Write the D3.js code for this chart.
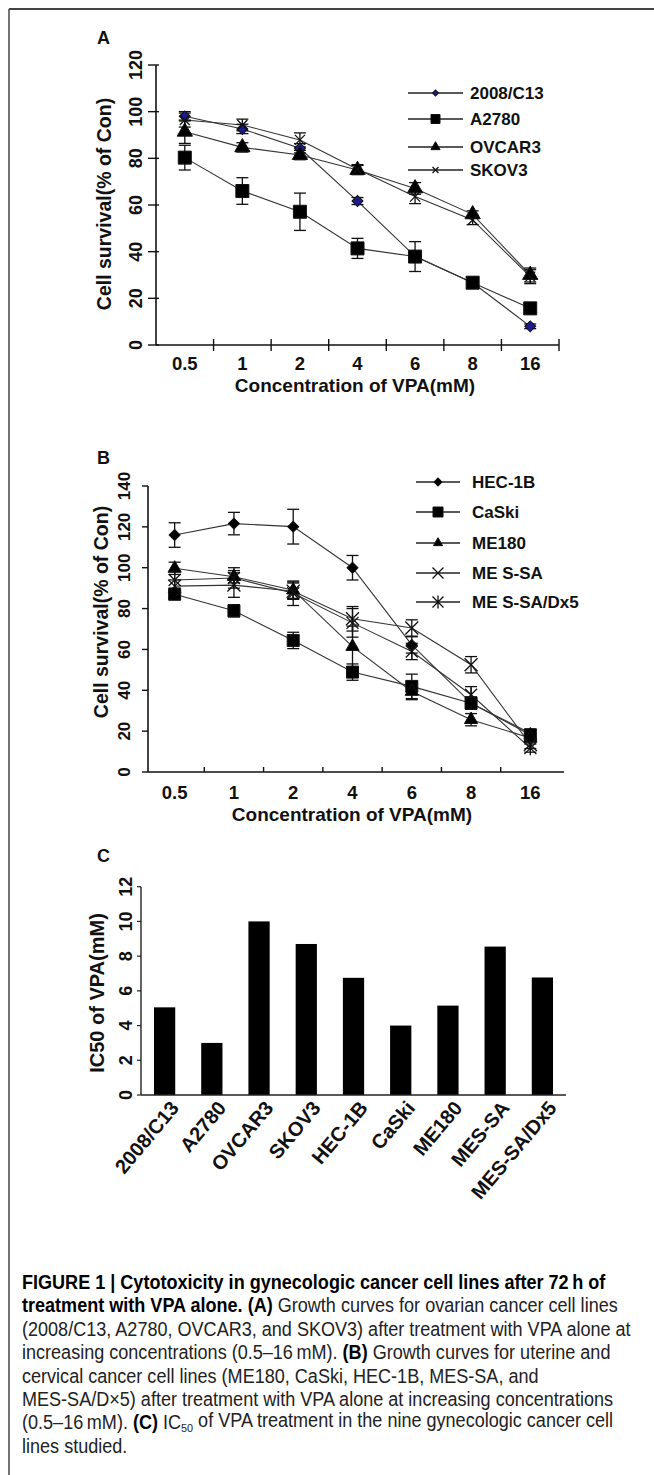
<!DOCTYPE html>
<html>
<head>
<meta charset="utf-8">
<script src="https://cdn.jsdelivr.net/npm/d3@7"></script>
<style>
  body { margin: 0; background: #fff; }
  svg text { font-family: "Liberation Sans", Arial, sans-serif; font-weight: bold; fill: #111; }
  .cap text { font-weight: normal; fill: #222; }
</style>
</head>
<body>
<div id="canvas"></div>
<script>
// ---- data ----
var concs = ["0.5", "1", "2", "4", "6", "8", "16"]

// panel A (ovarian)
var c13 = [98, 92.6, 84.3, 61.7, 38, 26.7, 8]
var c13Err = [2, 2, 2, 1.5, 2, 1, 1]
var a2780 = [80.3, 66, 57.1, 41.4, 37.9, 26.7, 15.7]
var a2780Err = [5.3, 5.7, 8, 4.3, 6.4, 1.5, 1.5]
var ovcar3 = [91.4, 84.7, 81.4, 75, 67.1, 56, 30]
var ovcar3Err = [5, 2, 2, 2, 2.5, 1.5, 3]
var skov3 = [96.4, 94.3, 87.9, 75.3, 63.6, 53.6, 29.3]
var skov3Err = [3, 2.5, 3, 2, 3, 2, 3]
var yTicksA = [0, 20, 40, 60, 80, 100, 120]

// panel B (uterine / cervical)
var hec = [116, 121.6, 120.1, 100, 62.2, 33.7, 19]
var hecErr = [6, 5.5, 8.5, 6, 4, 3, 2]
var caski = [87, 78.9, 64.4, 48.9, 41.9, 33.7, 18.2]
var caskiErr = [2, 3, 4, 4, 6, 3, 2]
var me180 = [99.7, 95.6, 89, 61.4, 39.4, 25.6, 16.6]
var me180Err = [3, 3, 4, 10, 4, 3, 2]
var messa = [91, 91.5, 88.5, 75, 70.5, 52.5, 13.5]
var messaErr = [3, 6, 4, 6, 4, 4, 2]
var dx5 = [94, 95, 87.5, 73, 59, 37.8, 11.7]
var dx5Err = [4, 5, 6, 7, 4, 4, 2]
var yTicksB = [0, 20, 40, 60, 80, 100, 120, 140]

// panel C (IC50)
var cells = ["2008/C13", "A2780", "OVCAR3", "SKOV3", "HEC-1B", "CaSki", "ME180", "MES-SA", "MES-SA/Dx5"]
var ic50 = [5.05, 3.0, 10.0, 8.7, 6.75, 4.0, 5.15, 8.55, 6.77]
var yTicksC = [0, 2, 4, 6, 8, 10, 12]

// ---- canvas ----
var W = 654, H = 1475
var svg = d3.select("#canvas").append("svg").attr("width", W).attr("height", H)

// frame
svg.append("line").attr("x1", 9).attr("x2", W).attr("y1", 9).attr("y2", 9)
    .attr("stroke", "#444").attr("stroke-width", 2)
svg.append("line").attr("x1", 9).attr("x2", 9).attr("y1", 9).attr("y2", H)
    .attr("stroke", "#444").attr("stroke-width", 1.5)

// markers
function markerPath(type, s) {
    if (type == "square") return d3.symbol(d3.symbolSquare, s * s)()
    if (type == "diamond") return d3.symbol(d3.symbolSquare, s * s * 0.5)()
    if (type == "triangle") return d3.symbol(d3.symbolTriangle, s * s * 0.45)()
    var r = s / 2
    if (type == "x") return "M" + (-r) + "," + (-r) + "L" + r + "," + r + "M" + (-r) + "," + r + "L" + r + "," + (-r)
    if (type == "star") return "M" + (-r) + "," + (-r) + "L" + r + "," + r + "M" + (-r) + "," + r + "L" + r + "," + (-r) +
        "M0," + (-r * 1.2) + "L0," + (r * 1.2)
}

function drawMarker(g, type, cx, cy, s, fill) {
    var p = g.append("path").attr("d", markerPath(type, s))
        .attr("transform", "translate(" + cx + "," + cy + ")" + (type == "diamond" ? " rotate(45)" : ""))
    if (type == "x" || type == "star") p.attr("fill", "none").attr("stroke", "#111").attr("stroke-width", 1.3)
    else p.attr("fill", fill || "#000").attr("stroke", "#111").attr("stroke-width", 1)
}

// ---- generic line panel ----
function linePanel(opt) {
    var g = svg.append("g")
    var x = d3.scaleBand().domain(concs).range(opt.xRange)
    var y = d3.scaleLinear().domain([0, opt.yMax]).range(opt.yRange)

    // axes
    g.append("line").attr("x1", opt.axisX).attr("x2", opt.axisX)
        .attr("y1", y(0)).attr("y2", y(opt.yMax)).attr("stroke", "#111").attr("stroke-width", 1.6)
    g.append("line").attr("x1", opt.axisX).attr("x2", opt.xRange[1] + opt.xEndPad)
        .attr("y1", y(0)).attr("y2", y(0)).attr("stroke", "#111").attr("stroke-width", 1.6)

    opt.yTicks.forEach(function (t) {
        g.append("line").attr("x1", opt.axisX - opt.yTickLen).attr("x2", opt.axisX + opt.yTickIn)
            .attr("y1", y(t)).attr("y2", y(t)).attr("stroke", "#111").attr("stroke-width", 1.4)
        g.append("text").attr("transform", "translate(" + opt.yLabX + "," + y(t) + ") rotate(-90)")
            .attr("text-anchor", "middle").attr("dy", "0.35em")
            .style("font-size", opt.yLabSize + "px").text(t)
    })

    concs.forEach(function (c, i) {
        var bx = x(c) + x.bandwidth()
        if (i < concs.length - 1 || opt.endTick)
            g.append("line").attr("x1", bx).attr("x2", bx)
                .attr("y1", y(0) - opt.xTickUp).attr("y2", y(0) + opt.xTickDown)
                .attr("stroke", "#111").attr("stroke-width", 1.4)
        g.append("text").attr("x", x(c) + x.bandwidth() / 2).attr("y", y(0) + opt.xLabDy)
            .attr("text-anchor", "middle").style("font-size", "18.5px").text(c)
    })

    g.append("text").attr("x", opt.titleX).attr("y", y(0) + opt.titleDy)
        .attr("text-anchor", "middle").style("font-size", "19px").text("Concentration of VPA(mM)")
    g.append("text").attr("transform", "translate(" + opt.yTitleX + "," + opt.yTitleY + ") rotate(-90)")
        .attr("text-anchor", "middle").attr("dy", "0.35em").style("font-size", "19.5px")
        .text("Cell survival(% of Con)")
    g.append("text").attr("x", opt.panelX).attr("y", opt.panelY).style("font-size", "18px").text(opt.panel)

    var cx = function (i) { return x(concs[i]) + x.bandwidth() / 2 }
    var line = d3.line().x(function (d, i) { return cx(i) }).y(function (d) { return y(d) })

    opt.series.forEach(function (s) {
        g.append("path").attr("d", line(s.values)).attr("fill", "none")
            .attr("stroke", "#333").attr("stroke-width", 1.1)
    })
    opt.series.forEach(function (s) {
        s.values.forEach(function (v, i) {
            var e = s.err[i], xc = cx(i)
            g.append("line").attr("x1", xc).attr("x2", xc).attr("y1", y(v - e)).attr("y2", y(v + e))
                .attr("stroke", "#111").attr("stroke-width", 1.3)
            ;[v - e, v + e].forEach(function (yv) {
                g.append("line").attr("x1", xc - 6).attr("x2", xc + 6).attr("y1", y(yv)).attr("y2", y(yv))
                    .attr("stroke", "#111").attr("stroke-width", 1.3)
            })
        })
    })
    opt.series.forEach(function (s) {
        s.values.forEach(function (v, i) {
            drawMarker(g, s.marker, cx(i), y(v), s.size, s.fill)
        })
    })

    // legend
    opt.series.forEach(function (s, i) {
        var ly = opt.legY[i]
        g.append("line").attr("x1", opt.legX0).attr("x2", opt.legX1).attr("y1", ly).attr("y2", ly)
            .attr("stroke", "#222").attr("stroke-width", 1.3)
        drawMarker(g, s.marker, (opt.legX0 + opt.legX1) / 2, ly, s.legSize, s.fill)
        g.append("text").attr("x", opt.legTextX).attr("y", ly).attr("dy", "0.35em")
            .style("font-size", "17px").text(s.name)
    })
}

linePanel({
    panel: "A", panelX: 97, panelY: 44,
    xRange: [156, 559], xEndPad: 0, axisX: 156, endTick: true,
    yMax: 120, yRange: [345, 65], yTicks: yTicksA,
    yTickLen: 8, yTickIn: 3, yLabX: 136, yLabSize: 18,
    xTickUp: 6, xTickDown: 6, xLabDy: 25, titleX: 355, titleDy: 47,
    yTitleX: 104, yTitleY: 204,
    legX0: 408, legX1: 463, legTextX: 470, legY: [93, 119, 147, 170],
    series: [
        { name: "2008/C13", values: c13, err: c13Err, marker: "diamond", size: 11, legSize: 6, fill: "#1c1c8a" },
        { name: "A2780", values: a2780, err: a2780Err, marker: "square", size: 13, legSize: 9 },
        { name: "OVCAR3", values: ovcar3, err: ovcar3Err, marker: "triangle", size: 15, legSize: 9 },
        { name: "SKOV3", values: skov3, err: skov3Err, marker: "x", size: 10, legSize: 6 }
    ]
})

linePanel({
    panel: "B", panelX: 97, panelY: 464,
    xRange: [145, 560], xEndPad: 4, axisX: 148, endTick: false,
    yMax: 140, yRange: [772, 486], yTicks: yTicksB,
    yTickLen: 6, yTickIn: 0, yLabX: 124, yLabSize: 17,
    xTickUp: 5, xTickDown: 0, xLabDy: 27, titleX: 352, titleDy: 49,
    yTitleX: 101, yTitleY: 612,
    legX0: 416, legX1: 460, legTextX: 472, legY: [482, 512, 543, 573, 602],
    series: [
        { name: "HEC-1B", values: hec, err: hecErr, marker: "diamond", size: 11, legSize: 8 },
        { name: "CaSki", values: caski, err: caskiErr, marker: "square", size: 12, legSize: 10 },
        { name: "ME180", values: me180, err: me180Err, marker: "triangle", size: 13, legSize: 9 },
        { name: "ME S-SA", values: messa, err: messaErr, marker: "x", size: 13, legSize: 11 },
        { name: "ME S-SA/Dx5", values: dx5, err: dx5Err, marker: "star", size: 12, legSize: 11 }
    ]
})

// ---- panel C: bars ----
var gc = svg.append("g")
var xC = d3.scaleBand().domain(cells).range([141, 566]).paddingInner(0.55).paddingOuter(0.275)
var yC = d3.scaleLinear().domain([0, 12]).range([1095, 886.7])

gc.selectAll("rect").data(ic50).enter().append("rect")
    .attr("x", function (d, i) { return xC(cells[i]) })
    .attr("width", xC.bandwidth())
    .attr("y", function (d) { return yC(d) })
    .attr("height", function (d) { return yC(0) - yC(d) })
    .attr("fill", "#000")

gc.append("line").attr("x1", 141).attr("x2", 141).attr("y1", yC(0)).attr("y2", yC(12))
    .attr("stroke", "#222").attr("stroke-width", 1.4)
gc.append("line").attr("x1", 141).attr("x2", 566).attr("y1", yC(0)).attr("y2", yC(0))
    .attr("stroke", "#222").attr("stroke-width", 1.4)
yTicksC.forEach(function (t) {
    gc.append("line").attr("x1", 137).attr("x2", 141).attr("y1", yC(t)).attr("y2", yC(t))
        .attr("stroke", "#222").attr("stroke-width", 1.2)
    gc.append("text").attr("transform", "translate(126," + yC(t) + ") rotate(-90)")
        .attr("text-anchor", "middle").attr("dy", "0.35em").style("font-size", "18px").text(t)
})
cells.forEach(function (c) {
    var cx = xC(c) + xC.bandwidth() / 2
    gc.append("text").attr("transform", "translate(" + (cx + 10) + ",1104) rotate(-50)")
        .attr("text-anchor", "end").attr("dy", "0.35em").style("font-size", "20px").text(c)
})
gc.append("text").attr("transform", "translate(97,993) rotate(-90)")
    .attr("text-anchor", "middle").attr("dy", "0.35em").style("font-size", "20px").text("IC50 of VPA(mM)")
gc.append("text").attr("x", 97).attr("y", 862).style("font-size", "18px").text("C")

// ---- caption ----
var capLines = [
    [["b", "FIGURE 1 | Cytotoxicity in gynecologic cancer cell lines after 72\u2009h of"]],
    [["b", "treatment with VPA alone. "], ["b", "(A)"], ["n", " Growth curves for ovarian cancer cell lines"]],
    [["n", "(2008/C13, A2780, OVCAR3, and SKOV3) after treatment with VPA alone at"]],
    [["n", "increasing concentrations (0.5\u201316\u2009mM). "], ["b", "(B)"], ["n", " Growth curves for uterine and"]],
    [["n", "cervical cancer cell lines (ME180, CaSki, HEC-1B, MES-SA, and"]],
    [["n", "MES-SA/D\u00d75) after treatment with VPA alone at increasing concentrations"]],
    [["n", "(0.5\u201316\u2009mM). "], ["b", "(C)"], ["n", " IC"], ["s", "50"], ["u", " of VPA treatment in the nine gynecologic cancer cell"]],
    [["n", "lines studied."]]
]
var capG = svg.append("g").attr("class", "cap")
var capSize = 19.5
capLines.forEach(function (parts, i) {
    var t = capG.append("text").attr("x", 0).attr("y", 1289 + i * 23.4).style("font-size", capSize + "px")
    parts.forEach(function (p) {
        var ts = t.append("tspan").text(p[1])
        if (p[0] == "b") ts.style("font-weight", "bold").style("fill", "#000")
        if (p[0] == "s") ts.attr("dy", "0.25em").style("font-size", (capSize * 0.6) + "px")
        if (p[0] == "u") ts.attr("dy", "-0.25em")
    })
})
// condense the caption horizontally so the long lines fill the column
var w3 = capG.selectAll("text").nodes()[2].getComputedTextLength()
capG.attr("transform", "translate(22,0) scale(" + (609 / w3) + ",1)")
</script>
</body>
</html>
